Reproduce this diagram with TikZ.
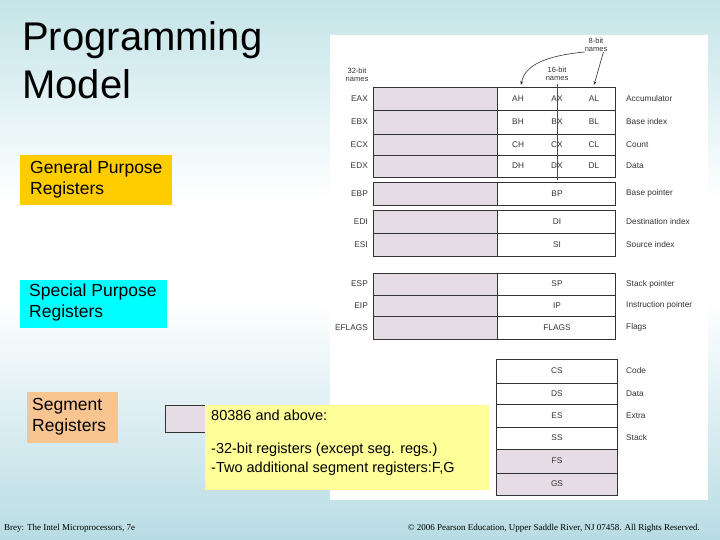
\documentclass[tikz,border=0pt]{standalone}
\usepackage{fontspec}
\setmainfont{Liberation Sans}
\newfontfamily\seriff{Liberation Serif}
\usetikzlibrary{arrows.meta}
\definecolor{bgtop}{HTML}{C4E4E8}
\definecolor{bgbot}{HTML}{B8DCE4}
\definecolor{shade}{HTML}{E6DCE6}
\definecolor{gold}{HTML}{FFCC00}
\definecolor{cyanb}{HTML}{00FFFF}
\definecolor{peach}{HTML}{F8C490}
\definecolor{yel}{HTML}{FFFF99}
\tikzset{
 sh/.style={fill=shade,draw=black!80,line width=0.8pt},
 wh/.style={fill=white,draw=black!80,line width=0.8pt},
 lab/.style={font=\fontsize{8.3}{9}\selectfont,text=black!80,inner sep=0pt},
 desc/.style={font=\fontsize{8.3}{9}\selectfont,text=black!80,inner sep=0pt,anchor=west},
 cat/.style={font=\fontsize{17.5}{21}\selectfont,align=left,anchor=north west,inner sep=0pt},
}
\begin{document}
\begin{tikzpicture}[x=1pt,y=-1pt]
\useasboundingbox (0,0) rectangle (720,540);
\shade[top color=bgtop,bottom color=white] (0,0) rectangle (720,200);
\fill[white] (0,200) rectangle (720,300);
\shade[top color=white,bottom color=bgbot] (0,300) rectangle (720,540);
\fill[white] (330,35) rectangle (708,500);
\node[anchor=north west,align=left,inner sep=0pt,font=\fontsize{40}{48}\selectfont] (title) at (22,21) {Programming\\Model};
\fill[gold] (20,155) rectangle (172,205);
\node[cat] (gp) at (30,161) {General Purpose\\Registers};
\fill[cyanb] (20,280) rectangle (167,328);
\node[cat] (sp) at (29,284) {Special Purpose\\Registers};
\fill[peach] (27,392) rectangle (118,443);
\node[cat] (sg) at (32,398) {Segment\\Registers};
\foreach \a/\b/\n/\h/\x/\l/\d in {87/110/EAX/AH/AX/AL/Accumulator,110/134/EBX/BH/BX/BL/Base index,134/155/ECX/CH/CX/CL/Count,155/177/EDX/DH/DX/DL/Data}{
 \draw[sh] (373,\a) rectangle (497,\b);
 \draw[wh] (497,\a) rectangle (615,\b);
 \node[lab,anchor=east] (n\n) at (368,{(\a+\b)/2}) {\n};
 \node[lab] (h\n) at (518,{(\a+\b)/2}) {\h};
 \node[lab] (x\n) at (557,{(\a+\b)/2}) {\x};
 \node[lab] (l\n) at (594,{(\a+\b)/2}) {\l};
 \node[desc] (d\n) at (626,{(\a+\b)/2}) {\d};
}
\draw[black!70,line width=0.6pt] (557,84) -- (557,180);
\foreach \a/\b/\n/\x/\d in {182/205/EBP/BP/Base pointer,210/233/EDI/DI/Destination index,233/256/ESI/SI/Source index,273/295/ESP/SP/Stack pointer,295/316/EIP/IP/Instruction pointer,316/339/EFLAGS/FLAGS/Flags}{
 \draw[sh] (373,\a) rectangle (497,\b);
 \draw[wh] (497,\a) rectangle (615,\b);
 \node[lab,anchor=east] (n\n) at (368,{(\a+\b)/2}) {\n};
 \node[lab] (x\n) at (557,{(\a+\b)/2}) {\x};
 \node[desc] (d\n) at (626,{(\a+\b)/2}) {\d};
}
\foreach \a/\b/\x/\d in {359/383/CS/Code,383/404/DS/Data,404/427/ES/Extra,427/449/SS/Stack}{
 \draw[wh] (496,\a) rectangle (617,\b);
 \node[lab] (x\x) at (557,{(\a+\b)/2}) {\x};
 \node[desc] (d\x) at (626,{(\a+\b)/2}) {\d};
}
\foreach \a/\b/\x in {449/473/FS,473/495/GS}{
 \draw[sh] (496,\a) rectangle (617,\b);
 \node[lab] (x\x) at (557,{(\a+\b)/2}) {\x};
}
\node[lab,align=center,font=\fontsize{7.5}{8}\selectfont] (b32) at (357,75) {32-bit\\names};
\node[lab,align=center,font=\fontsize{7.5}{8}\selectfont] (b16) at (557,74) {16-bit\\names};
\node[lab,align=center,font=\fontsize{7.5}{8}\selectfont] (b8) at (596,45) {8-bit\\names};
\draw[-{Stealth[length=4pt]},black!80,line width=0.6pt] (b8.south east) ++(-4,0) -- (594,85);
\draw[-{Stealth[length=4pt]},black!80,line width=0.6pt] (b8.south west) .. controls (545,56) and (525,65) .. (521,85);
\draw[sh] (165,405) rectangle (215,432);
\fill[yel] (205,405) rectangle (489,490);
\node[anchor=north west,align=left,inner sep=0pt,font=\fontsize{14.5}{19.5}\selectfont] (note) at (211,410) {80386 and above:\\[13pt]-32-bit registers (except seg. regs.)\\-Two additional segment registers:F,G};
\node[anchor=west,inner sep=0pt,font=\seriff\fontsize{9}{10}\selectfont] (f1) at (4,528) {Brey: The Intel Microprocessors, 7e};
\node[anchor=east,inner sep=0pt,font=\seriff\fontsize{9}{10}\selectfont] (f2) at (700,528) {© 2006 Pearson Education, Upper Saddle River, NJ 07458. All Rights Reserved.};
\end{tikzpicture}
\end{document}
